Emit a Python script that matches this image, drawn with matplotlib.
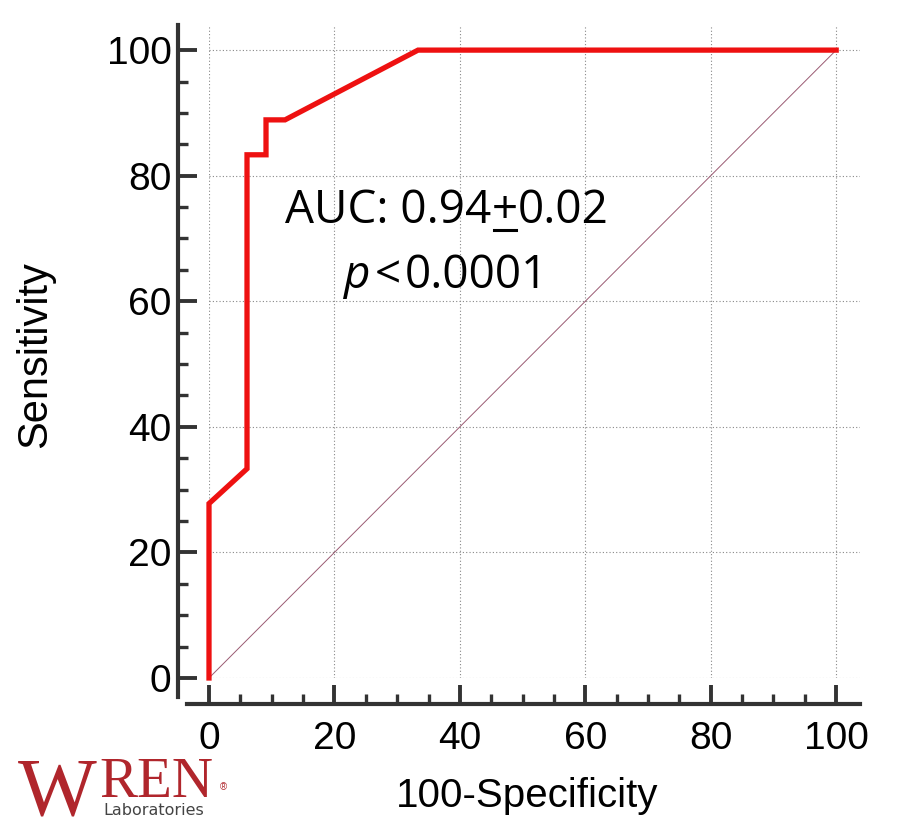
import numpy as np
import matplotlib
matplotlib.use("Agg")
import matplotlib.pyplot as plt
from matplotlib.ticker import MultipleLocator
from matplotlib.lines import Line2D

# ROC curve (100-Specificity, Sensitivity)
fpr = [0, 0, 6.06, 6.06, 9.09, 9.09, 12.12, 33.33, 100]
tpr = [0, 27.78, 33.33, 83.33, 83.33, 88.89, 88.89, 100, 100]
ref_line = [0, 100]

auc_parts = ["AUC: 0.94", "+", "0.02"]
p_parts = ["p", "<", "0.0001"]

plt.rcParams['font.family'] = ['Liberation Sans', 'DejaVu Sans']

W, H = 917, 834
fig = plt.figure(figsize=(W / 100, H / 100), dpi=100)
ax = fig.add_axes([209 / W, 1 - 678 / H, (860 - 209) / W, (678 - 25) / H])

ax.plot(ref_line, ref_line, color='#9a5a72', lw=0.7, zorder=2)
ax.plot(fpr, tpr, color='#ee1111', lw=3.8, zorder=3, solid_joinstyle='miter',
        clip_on=False)

ax.set_xlim(0, 103.8)
ax.set_ylim(0, 104)
ax.xaxis.set_major_locator(MultipleLocator(20))
ax.yaxis.set_major_locator(MultipleLocator(20))
ax.xaxis.set_minor_locator(MultipleLocator(5))
ax.yaxis.set_minor_locator(MultipleLocator(5))
ax.grid(True, which='major', color='#888888', ls=(0, (1, 2)), lw=0.8)

for s in ['top', 'right']:
    ax.spines[s].set_visible(False)
ax.spines['left'].set_position(('outward', 22))
ax.spines['bottom'].set_position(('outward', 19))
ax.spines['left'].set_bounds(-3.03, 104)
ax.spines['bottom'].set_bounds(-3.5, 103.8)
for s in ['left', 'bottom']:
    ax.spines[s].set_linewidth(3)
    ax.spines[s].set_color('#333333')

ax.tick_params(which='major', direction='in', length=14, width=2.8, color='#333333',
               labelsize=28, pad=12)
ax.tick_params(which='minor', direction='in', length=7, width=2.4, color='#333333')
ax.tick_params(axis='y', which='major', pad=5)

ax.set_xlabel("100-Specificity", fontsize=29)
ax.set_ylabel("Sensitivity", fontsize=30)
ax.xaxis.set_label_coords(0.489, -0.152)
ax.yaxis.set_label_coords(-0.236, 0.495)

renderer = fig.canvas.get_renderer()


def text_row(parts, styles, xc, ybase, gap=0, underline=None):
    # lay pieces side by side, centred on xc (pixels), baseline at ybase
    pieces = [fig.text(0, 1 - ybase / H, s, fontsize=33, family='Open Sans',
                       style=st, va='baseline') for s, st in zip(parts, styles)]
    widths = [p.get_window_extent(renderer).width for p in pieces]
    x0 = xc - (sum(widths) + gap * (len(parts) - 1)) / 2
    for p, w in zip(pieces, widths):
        p.set_x(x0 / W)
        if p.get_text() == underline:
            yb = 1 - (ybase + 7) / H
            fig.add_artist(Line2D([(x0 + 2) / W, (x0 + w - 2) / W], [yb, yb],
                                  color='black', lw=2.2, transform=fig.transFigure))
        x0 += w + gap


text_row(auc_parts, ['normal'] * 3, 447, 223, underline="+")
text_row(p_parts, ['italic', 'normal', 'normal'], 446, 288, gap=4)

# logo as text
fig.text(18 / W, 1 - 815 / H, "W", fontsize=60, family='Liberation Serif',
         color='#b0262c', ha='left', va='baseline')
fig.text(99 / W, 1 - 797 / H, "REN", fontsize=41, family='Liberation Serif',
         color='#b0262c', ha='left', va='baseline')
fig.text(103 / W, 1 - 815 / H, "Laboratories", fontsize=11.5, family='DejaVu Sans',
         color='#444444', ha='left', va='baseline')
fig.text(220 / W, 1 - 790 / H, "®", fontsize=7, color='#b0262c', ha='left', va='baseline')

fig.savefig("out.png", dpi=100)
